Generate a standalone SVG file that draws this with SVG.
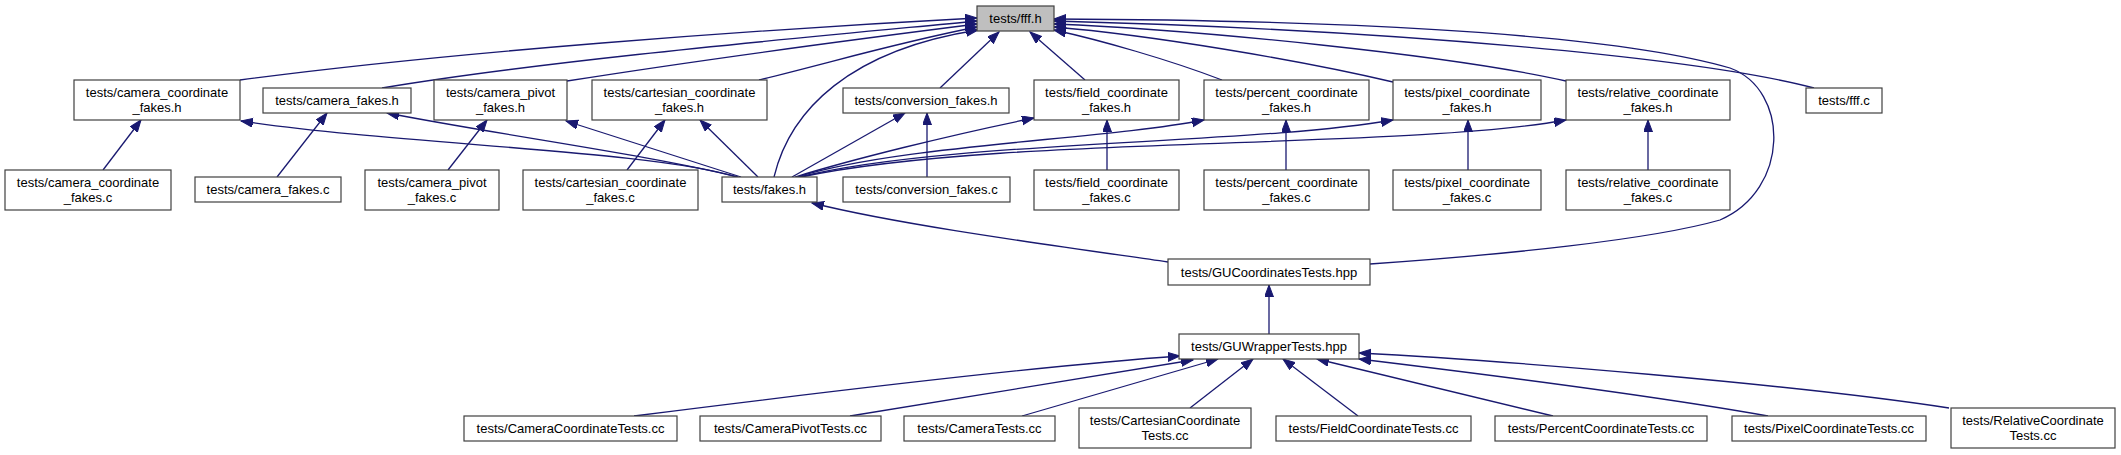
<svg xmlns="http://www.w3.org/2000/svg" width="2121" height="455" viewBox="0 0 2121 455">
<defs>
<style>
.n rect{fill:#ffffff;stroke:#404040;stroke-width:1.2}
.n.main rect{fill:#bfbfbf}
.n text{font-family:"Liberation Sans",Arial,sans-serif;font-size:13px;fill:#000000;text-anchor:middle}
.e path{fill:none;stroke:#191970;stroke-width:1.3;marker-end:url(#ah)}
</style>
<marker id="ah" markerUnits="userSpaceOnUse" markerWidth="13" markerHeight="10" refX="12" refY="4.5" orient="auto"><path d="M0,0 L12,4.5 L0,9 z" fill="#191970" stroke="#191970" stroke-width="1"/></marker>
</defs>
<rect x="0" y="0" width="2121" height="455" fill="#ffffff"/>
<g id="edges" class="e">
<path d="M240,80 C450,52 750,30 977,18"/>
<path d="M382,88 C550,60 800,38 977,21"/>
<path d="M567,81 C700,60 850,40 977,24"/>
<path d="M759,80 C840,60 900,42 977,27"/>
<path d="M774,177 C790,110 850,50 978,30"/>
<path d="M940,88 L999,32"/>
<path d="M1085,80 L1030,32"/>
<path d="M1222,80 C1170,60 1100,40 1054,30"/>
<path d="M1393,82 C1300,60 1150,35 1054,27"/>
<path d="M1566,81 C1450,55 1200,30 1054,24"/>
<path d="M1814,88 C1700,58 1400,30 1054,21"/>
<path d="M1370,264 C1500,255 1650,240 1720,220 C1790,190 1790,90 1730,68 C1600,30 1300,20 1054,19"/>
<path d="M103,170 L141,120"/>
<path d="M737,177 C650,150 400,145 241,121"/>
<path d="M277,177 L327,113"/>
<path d="M738,177 C650,155 500,135 387,113"/>
<path d="M448,170 L487,120"/>
<path d="M741,177 L566,121"/>
<path d="M627,170 L665,120"/>
<path d="M758,177 L700,120"/>
<path d="M792,177 L905,113"/>
<path d="M927,177 L927,113"/>
<path d="M795,177 C850,160 950,135 1034,118"/>
<path d="M1107,170 L1107,120"/>
<path d="M797,177 C900,145 1100,140 1204,120"/>
<path d="M1286,170 L1286,120"/>
<path d="M799,177 C950,140 1250,145 1393,120"/>
<path d="M1468,170 L1468,120"/>
<path d="M801,177 C1000,135 1400,150 1566,120"/>
<path d="M1648,170 L1648,120"/>
<path d="M1168,262 C1050,245 900,225 812,203"/>
<path d="M1269,334 L1269,285"/>
<path d="M634,416 C800,395 1050,365 1180,356"/>
<path d="M850,416 L1193,360"/>
<path d="M1022,416 L1218,359"/>
<path d="M1190,408 L1253,359"/>
<path d="M1358,416 L1283,359"/>
<path d="M1553,416 L1317,359"/>
<path d="M1768,416 C1650,395 1450,370 1359,359"/>
<path d="M1949,408 C1800,385 1500,360 1359,353"/>
</g>
<g id="n_fff_h" class="n main"><rect x="977" y="6" width="77" height="25"/><text x="1015.5" y="23">tests/fff.h</text></g>
<g id="n_camera_coordinate_fakes_h" class="n"><rect x="74" y="80" width="166" height="40"/><text x="157" y="97">tests/camera_coordinate</text><text x="157" y="111.5">_fakes.h</text></g>
<g id="n_camera_fakes_h" class="n"><rect x="263" y="88" width="148" height="25"/><text x="337" y="105">tests/camera_fakes.h</text></g>
<g id="n_camera_pivot_fakes_h" class="n"><rect x="434" y="80" width="133" height="40"/><text x="500.5" y="97">tests/camera_pivot</text><text x="500.5" y="111.5">_fakes.h</text></g>
<g id="n_cartesian_coordinate_fakes_h" class="n"><rect x="592" y="80" width="175" height="40"/><text x="679.5" y="97">tests/cartesian_coordinate</text><text x="679.5" y="111.5">_fakes.h</text></g>
<g id="n_conversion_fakes_h" class="n"><rect x="843" y="88" width="166" height="25"/><text x="926" y="105">tests/conversion_fakes.h</text></g>
<g id="n_field_coordinate_fakes_h" class="n"><rect x="1034" y="80" width="145" height="40"/><text x="1106.5" y="97">tests/field_coordinate</text><text x="1106.5" y="111.5">_fakes.h</text></g>
<g id="n_percent_coordinate_fakes_h" class="n"><rect x="1204" y="80" width="165" height="40"/><text x="1286.5" y="97">tests/percent_coordinate</text><text x="1286.5" y="111.5">_fakes.h</text></g>
<g id="n_pixel_coordinate_fakes_h" class="n"><rect x="1393" y="80" width="148" height="40"/><text x="1467" y="97">tests/pixel_coordinate</text><text x="1467" y="111.5">_fakes.h</text></g>
<g id="n_relative_coordinate_fakes_h" class="n"><rect x="1566" y="80" width="164" height="40"/><text x="1648" y="97">tests/relative_coordinate</text><text x="1648" y="111.5">_fakes.h</text></g>
<g id="n_fff_c" class="n"><rect x="1806" y="88" width="76" height="25"/><text x="1844" y="105">tests/fff.c</text></g>
<g id="n_camera_coordinate_fakes_c" class="n"><rect x="5" y="170" width="166" height="40"/><text x="88" y="187">tests/camera_coordinate</text><text x="88" y="201.5">_fakes.c</text></g>
<g id="n_camera_fakes_c" class="n"><rect x="195" y="177" width="146" height="25"/><text x="268" y="194">tests/camera_fakes.c</text></g>
<g id="n_camera_pivot_fakes_c" class="n"><rect x="365" y="170" width="134" height="40"/><text x="432" y="187">tests/camera_pivot</text><text x="432" y="201.5">_fakes.c</text></g>
<g id="n_cartesian_coordinate_fakes_c" class="n"><rect x="523" y="170" width="175" height="40"/><text x="610.5" y="187">tests/cartesian_coordinate</text><text x="610.5" y="201.5">_fakes.c</text></g>
<g id="n_fakes_h" class="n"><rect x="722" y="177" width="95" height="25"/><text x="769.5" y="194">tests/fakes.h</text></g>
<g id="n_conversion_fakes_c" class="n"><rect x="843" y="177" width="167" height="25"/><text x="926.5" y="194">tests/conversion_fakes.c</text></g>
<g id="n_field_coordinate_fakes_c" class="n"><rect x="1034" y="170" width="145" height="40"/><text x="1106.5" y="187">tests/field_coordinate</text><text x="1106.5" y="201.5">_fakes.c</text></g>
<g id="n_percent_coordinate_fakes_c" class="n"><rect x="1204" y="170" width="165" height="40"/><text x="1286.5" y="187">tests/percent_coordinate</text><text x="1286.5" y="201.5">_fakes.c</text></g>
<g id="n_pixel_coordinate_fakes_c" class="n"><rect x="1393" y="170" width="148" height="40"/><text x="1467" y="187">tests/pixel_coordinate</text><text x="1467" y="201.5">_fakes.c</text></g>
<g id="n_relative_coordinate_fakes_c" class="n"><rect x="1566" y="170" width="164" height="40"/><text x="1648" y="187">tests/relative_coordinate</text><text x="1648" y="201.5">_fakes.c</text></g>
<g id="n_GUCoordinatesTests_hpp" class="n"><rect x="1168" y="259" width="202" height="26"/><text x="1269" y="276.5">tests/GUCoordinatesTests.hpp</text></g>
<g id="n_GUWrapperTests_hpp" class="n"><rect x="1179" y="334" width="180" height="25"/><text x="1269" y="351">tests/GUWrapperTests.hpp</text></g>
<g id="n_CameraCoordinateTests_cc" class="n"><rect x="464" y="416" width="213" height="25"/><text x="570.5" y="433">tests/CameraCoordinateTests.cc</text></g>
<g id="n_CameraPivotTests_cc" class="n"><rect x="700" y="416" width="181" height="25"/><text x="790.5" y="433">tests/CameraPivotTests.cc</text></g>
<g id="n_CameraTests_cc" class="n"><rect x="904" y="416" width="151" height="25"/><text x="979.5" y="433">tests/CameraTests.cc</text></g>
<g id="n_CartesianCoordinateTests_cc" class="n"><rect x="1079" y="408" width="172" height="40"/><text x="1165" y="425">tests/CartesianCoordinate</text><text x="1165" y="439.5">Tests.cc</text></g>
<g id="n_FieldCoordinateTests_cc" class="n"><rect x="1276" y="416" width="195" height="25"/><text x="1373.5" y="433">tests/FieldCoordinateTests.cc</text></g>
<g id="n_PercentCoordinateTests_cc" class="n"><rect x="1495" y="416" width="212" height="25"/><text x="1601" y="433">tests/PercentCoordinateTests.cc</text></g>
<g id="n_PixelCoordinateTests_cc" class="n"><rect x="1732" y="416" width="194" height="25"/><text x="1829" y="433">tests/PixelCoordinateTests.cc</text></g>
<g id="n_RelativeCoordinateTests_cc" class="n"><rect x="1951" y="408" width="164" height="40"/><text x="2033" y="425">tests/RelativeCoordinate</text><text x="2033" y="439.5">Tests.cc</text></g>
</svg>
